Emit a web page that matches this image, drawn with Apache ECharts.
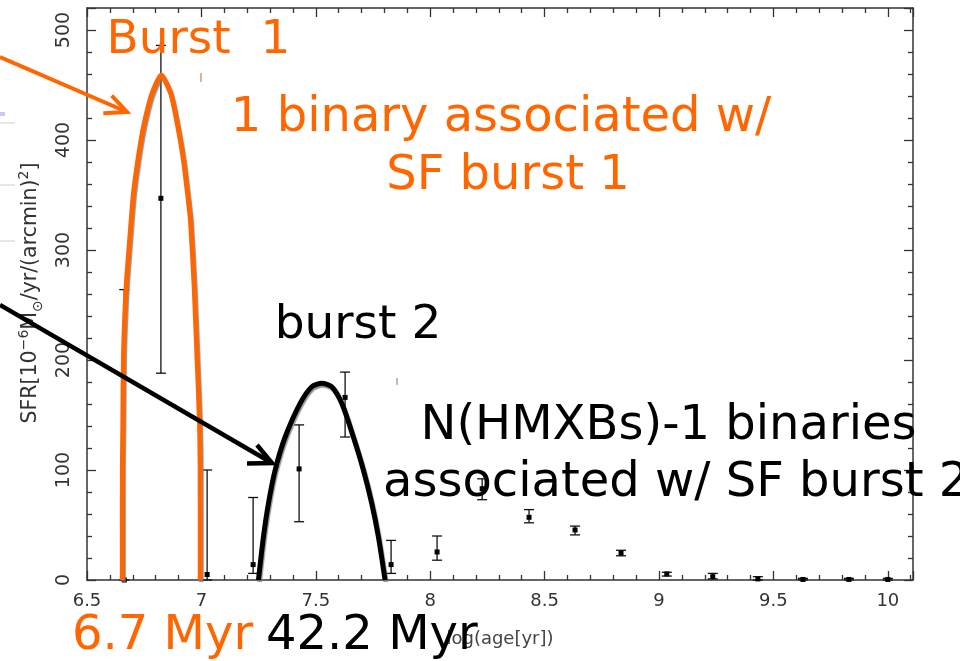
<!DOCTYPE html>
<html>
<head>
<meta charset="utf-8">
<script src="https://cdn.jsdelivr.net/npm/echarts@6/dist/echarts.min.js"></script>
<style>
html,body{margin:0;padding:0;background:#fff;}
#chart{width:960px;height:661px;}
</style>
</head>
<body>
<div id="chart"></div>
<script>
// ---- data ----
const binX    = [6.663, 6.823, 7.025, 7.226, 7.427, 7.628, 7.829, 8.030, 8.227, 8.432, 8.633, 8.834, 9.034, 9.235, 9.432, 9.629, 9.830, 10.0];
const sfrVal  = [0, 347, 5, 14, 101, 166, 14, 25.5, 83, 57, 45.5, 24.5, 5.5, 3, 1, 0.5, 0.5, 0.5];
const sfrLow  = [0, 188, 0, 6, 53, 130, 6, 18, 73, 52, 41, 22, 3.6, 1, 0, 0, 0, 0];
const sfrHigh = [264, 486, 100, 75, 141, 189, 36, 40, 92, 64, 49, 27, 7, 6, 3, 1.5, 1.5, 1.5];

const burst1X = [6.6546, 6.6548, 6.657, 6.6598, 6.6716, 6.6934, 6.7035, 6.7227, 6.7472, 6.7838, 6.8245, 6.8668, 6.8974, 6.9218, 6.9393, 6.9524, 6.9686, 6.9803, 6.9917, 6.9948, 6.995];
const burst1Y = [0, 100, 145, 206, 267, 327, 352, 382, 412, 442, 459, 442, 412, 382, 352, 327, 267, 206, 145, 100, 0];

const burst2X = [7.2493, 7.2712, 7.2930, 7.3223, 7.3660, 7.4314, 7.4825, 7.5262, 7.5699, 7.6135, 7.6642, 7.7079, 7.7445, 7.7734, 7.8026];
const burst2Y = [0, 39.4, 69.7, 100, 130, 160.6, 175.7, 178.8, 175.7, 160.6, 130, 100, 69.7, 39.4, 0];

const xTicks = {min: 6.5, max: 10.11, interval: 0.5};
const yTicks = {min: 0, max: 520, interval: 100};

// ---- chart ----
const chart = echarts.init(document.getElementById('chart'), null, {renderer: 'canvas'});
const FONT = '"DejaVu Sans", sans-serif';
const ORANGE = '#ff6600';
const axisColor = '#333';

function xAxisDef(pos, showLabel) {
  return {
    type: 'value', position: pos, min: xTicks.min, max: xTicks.max, interval: xTicks.interval,
    axisLine: {show: true, onZero: false, lineStyle: {color: axisColor, width: 1.5}},
    axisTick: {show: true, inside: true, length: 9, lineStyle: {color: axisColor, width: 1.3}},
    minorTick: {show: true, splitNumber: 5, length: 5, lineStyle: {color: axisColor, width: 1.3}},
    splitLine: {show: false},
    axisLabel: {show: showLabel, showMaxLabel: false, margin: 12, fontSize: 18, color: '#333', fontFamily: FONT}
  };
}
function yAxisDef(pos, showLabel) {
  return {
    type: 'value', position: pos, min: yTicks.min, max: yTicks.max, interval: yTicks.interval,
    axisLine: {show: true, onZero: false, lineStyle: {color: axisColor, width: 1.5}},
    axisTick: {show: true, inside: true, length: 9, lineStyle: {color: axisColor, width: 1.3}},
    minorTick: {show: true, splitNumber: 5, length: 5, lineStyle: {color: axisColor, width: 1.3}},
    splitLine: {show: false},
    axisLabel: {show: showLabel, showMaxLabel: false, rotate: 90, margin: 13, fontSize: 19, color: '#333', fontFamily: FONT}
  };
}

const errData = binX.map((x, i) => [x, sfrVal[i], sfrLow[i], sfrHigh[i]]);

function bigText(text, x, y, color, align, size) {
  return {type: 'text', x: x, y: y, z: 100,
    style: {text: text, fill: color, font: (size || 48) + 'px ' + FONT, align: align || 'center', verticalAlign: 'middle'}};
}

const option = {
  backgroundColor: '#fff',
  animation: false,
  grid: {left: 87, right: 47, top: 8, bottom: 81, containLabel: false},
  xAxis: [xAxisDef('bottom', true), xAxisDef('top', false)],
  yAxis: [yAxisDef('left', true), yAxisDef('right', false)],
  series: [
    {
      type: 'custom', xAxisIndex: 0, yAxisIndex: 0, z: 2, clip: false,
      data: errData,
      encode: {x: 0, y: 1},
      renderItem: function (params, api) {
        const x = api.value(0), v = api.value(1), lo = api.value(2), hi = api.value(3);
        const pv = api.coord([x, v]), pl = api.coord([x, lo]), ph = api.coord([x, hi]);
        const cw = 5;
        const st = {stroke: '#111', lineWidth: 1.3};
        return {type: 'group', children: [
          {type: 'line', shape: {x1: pl[0], y1: pl[1], x2: ph[0], y2: ph[1]}, style: st},
          {type: 'line', shape: {x1: ph[0] - cw, y1: ph[1], x2: ph[0] + cw, y2: ph[1]}, style: st},
          {type: 'line', shape: {x1: pl[0] - cw, y1: pl[1], x2: pl[0] + cw, y2: pl[1]}, style: st},
          {type: 'rect', shape: {x: pv[0] - 2.5, y: pv[1] - 2.5, width: 5, height: 5}, style: {fill: '#000'}}
        ]};
      }
    },
    {
      type: 'line', xAxisIndex: 0, yAxisIndex: 0, z: 3, showSymbol: false, smooth: 0.2,
      data: burst1X.map((x, i) => [x, burst1Y[i]]),
      lineStyle: {color: ORANGE, width: 5, shadowColor: 'rgba(120,120,120,0.8)', shadowBlur: 1, shadowOffsetX: 1, shadowOffsetY: 2}
    },
    {
      type: 'line', xAxisIndex: 0, yAxisIndex: 0, z: 3, showSymbol: false, smooth: 0.25,
      data: burst2X.map((x, i) => [x, burst2Y[i]]),
      lineStyle: {color: '#000', width: 5, shadowColor: 'rgba(120,120,120,0.8)', shadowBlur: 1, shadowOffsetX: 1, shadowOffsetY: 2}
    }
  ],
  graphic: [
    // faint slide remnants at the left edge
    {type: 'rect', shape: {x: 0, y: 112, width: 5, height: 4}, style: {fill: '#c8c8f5'}, z: 50},
    {type: 'line', shape: {x1: 0, y1: 123, x2: 15, y2: 123}, style: {stroke: '#cfcfcf', lineWidth: 1}, z: 50},
    {type: 'line', shape: {x1: 0, y1: 185, x2: 15, y2: 185}, style: {stroke: '#cfcfcf', lineWidth: 1}, z: 50},
    {type: 'line', shape: {x1: 0, y1: 241, x2: 15, y2: 241}, style: {stroke: '#cfcfcf', lineWidth: 1}, z: 50},
    {type: 'line', shape: {x1: 201, y1: 73, x2: 201, y2: 82}, style: {stroke: '#e08050', lineWidth: 1.3}, z: 50},
    {type: 'line', shape: {x1: 397, y1: 378, x2: 397, y2: 385}, style: {stroke: '#999', lineWidth: 1.3}, z: 50},
    // axis titles
    {type: 'text', x: 500, y: 639, z: 60,
      style: {text: 'log(age[yr])', fill: '#444', font: '18px ' + FONT, align: 'center', verticalAlign: 'middle'}},
    {type: 'text', x: 31, y: 293, rotation: Math.PI / 2, z: 60,
      style: {
        text: '{m|SFR[10}{s|−6}{m|M}{b|⊙}{m|/yr/(arcmin)}{s|2}{m|]}',
        align: 'center', verticalAlign: 'middle',
        rich: {
          m: {fontSize: 20.5, fontFamily: FONT, fill: '#333', lineHeight: 28, verticalAlign: 'middle'},
          s: {fontSize: 14, fontFamily: FONT, fill: '#333', lineHeight: 28, verticalAlign: 'top'},
          b: {fontSize: 14, fontFamily: FONT, fill: '#333', lineHeight: 28, verticalAlign: 'bottom'}
        }
      }},
    // arrows
    {type: 'polyline', z: 90, shape: {points: [[0, 57], [127, 112]]}, style: {stroke: ORANGE, lineWidth: 4, fill: null}},
    {type: 'polyline', z: 90, shape: {points: [[111.7, 95.7], [127, 112], [103.3, 113.3]]}, style: {stroke: ORANGE, lineWidth: 4, fill: null, lineJoin: 'miter'}},
    {type: 'polyline', z: 90, shape: {points: [[0, 305], [272, 463]]}, style: {stroke: '#000', lineWidth: 4.5, fill: null}},
    {type: 'polyline', z: 90, shape: {points: [[257, 445], [272, 463], [247, 463.5]]}, style: {stroke: '#000', lineWidth: 4.5, fill: null, lineJoin: 'miter'}},
    // annotation texts
    bigText('Burst  1', 198.5, 40.5, ORANGE, 'center', 47),
    bigText('1 binary associated w/', 501, 118.5, ORANGE),
    bigText('SF burst 1', 508, 176.5, ORANGE),
    bigText('burst 2', 358, 325.5, '#000', 'center', 47),
    bigText('N(HMXBs)-1 binaries', 668.5, 427, '#000'),
    bigText('associated w/ SF burst 2', 383, 484, '#000', 'left'),
    bigText('6.7 Myr', 72, 637, ORANGE, 'left'),
    bigText('42.2 Myr', 266, 637, '#000', 'left')
  ]
};
chart.setOption(option);
</script>
</body>
</html>
